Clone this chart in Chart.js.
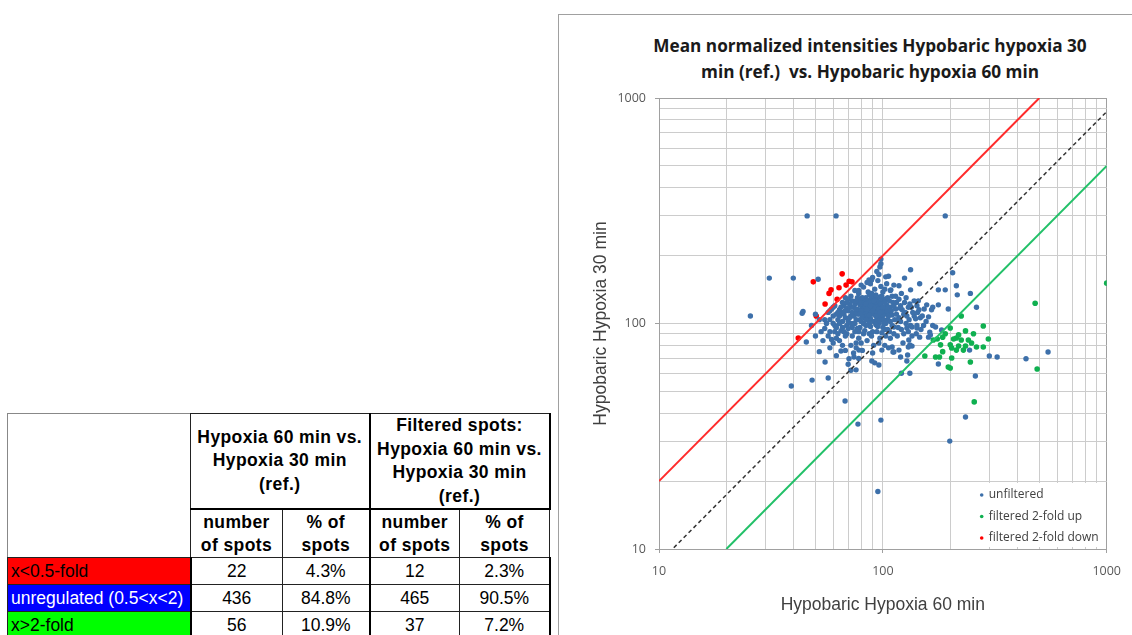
<!DOCTYPE html>
<html>
<head>
<meta charset="utf-8">
<script src="https://cdn.jsdelivr.net/npm/chart.js@4.4.1/dist/chart.umd.min.js"></script>
<style>
  body { margin: 0; background: #fff; width: 1132px; height: 635px; overflow: hidden; position: relative; }
  #frame { position: absolute; left: 558px; top: 14px; width: 600px; height: 640px; border-left: 1.5px solid #a0a0a0; border-top: 1.5px solid #a0a0a0; }
  #chartBox { position: absolute; left: 558px; top: 14px; width: 574px; height: 621px; }
  #titulo { position: absolute; left: 590px; top: 33px; width: 560px; text-align: center; font-family: "Open Sans", sans-serif; font-weight: bold; font-size: 17.2px; line-height: 26px; color: #1a1a1a; }
  #resumo { position: absolute; left: 7px; top: 413px; width: 542px; border-collapse: collapse; table-layout: fixed; font-family: "Liberation Sans", Arial, sans-serif; font-size: 17.5px; color: #000; }
  #resumo td, #resumo th { border: 1.5px solid #222; padding: 0; text-align: center; }
  #resumo th { font-weight: bold; line-height: 23.5px; letter-spacing: 0.4px; }
  #resumo .blank { border-top-color: #888; border-left-color: #888; }
  #resumo .grp { border-left: 2.5px solid #000; border-right: 2.5px solid #000; }
  #resumo tr.h1 th { height: 92px; border-bottom: 2.5px solid #000; }
  #resumo tr.h2 th { height: 47px; line-height: 23px; }
  #resumo td.rotulo { text-align: left; padding-left: 3px; white-space: nowrap; border-right: 2.5px solid #000; }
  #resumo tr.dado td { height: 26px; }
</style>
</head>
<body>
<div id="frame"></div>
<div id="titulo">Mean normalized intensities Hypobaric hypoxia 30<br>min (ref.)&nbsp; vs. Hypobaric hypoxia 60 min</div>
<div id="chartBox"><canvas id="graficoDispersao"></canvas></div>

<table id="resumo">
  <colgroup>
    <col style="width:183px"><col style="width:92px"><col style="width:87px"><col style="width:90px"><col style="width:90px">
  </colgroup>
  <tr class="h1">
    <td rowspan="2" class="blank"></td>
    <th colspan="2">Hypoxia 60 min vs.<br>Hypoxia 30 min<br>(ref.)</th>
    <th colspan="2" class="grp">Filtered spots:<br>Hypoxia 60 min vs.<br>Hypoxia 30 min<br>(ref.)</th>
  </tr>
  <tr class="h2">
    <th>number<br>of spots</th><th>% of<br>spots</th><th style="border-left:2.5px solid #000">number<br>of spots</th><th>% of<br>spots</th>
  </tr>
  <tbody id="linhasResumo"></tbody>
</table>

<script>
// table values
const rowLabels = ["x<0.5-fold", "unregulated (0.5<x<2)", "x>2-fold"];
const rowColors = ["#ff0000", "#0000ff", "#00ff00"];
const rowTextColors = ["#000", "#fff", "#000"];
const spotCounts = [22, 436, 56];
const spotPercents = ["4.3%", "84.8%", "10.9%"];
const filteredCounts = [12, 465, 37];
const filteredPercents = ["2.3%", "90.5%", "7.2%"];

// chart values [60 min, 30 min]
const downPoints = [
  [65.8, 166], [48.9, 153], [68.5, 148], [72.8, 153], [63.7, 144], [58.7, 141],
  [57.5, 136], [62.5, 128], [55.2, 122], [50.4, 108], [41.9, 86.3], [70.7, 154]
];

const upPoints = [
  [1000, 151], [479, 123], [489, 62.8], [256, 44.9], [224, 108], [281, 97.5],
  [200, 95.5], [234, 92.7], [213, 86.3], [207, 85.3], [224, 84.5], [241, 84.5],
  [249, 81.9], [185, 87], [175, 85.3], [168, 84.5], [181, 80.4], [200, 80.4],
  [218, 79.4], [234, 79.4], [262, 78.7], [281, 78.7], [203, 77.9], [213, 76.2],
  [229, 76.2], [154, 71.8], [172, 71], [179, 71], [203, 70.3], [246, 67.5],
  [196, 64.1], [200, 63.5], [190, 90], [218, 89], [254, 90], [296, 85.3], [185, 75]
];

const unfilteredPoints = [
  // outliers
  [25.6, 108], [31.1, 159], [39.8, 159], [45.9, 300], [61.8, 300], [190, 300],
  [51.4, 157], [43.6, 111], [44, 113], [45.5, 82.8], [39, 52.8], [48.3, 56.1],
  [57, 57.3], [55.2, 67.5], [67.8, 45.3], [77.4, 35.8], [75.9, 62.3], [86.7, 156],
  [98, 193], [98, 184], [133, 173], [125, 159], [146, 150], [118, 147], [133, 141],
  [177, 141], [190, 141], [213, 147], [205, 168], [262, 118], [157, 121], [167, 118],
  [177, 121], [142, 120], [143, 112], [160, 107], [167, 98], [162, 91.6], [146, 87],
  [160, 87], [142, 95.5], [128, 95.5], [135, 96.5], [112, 96.5], [111, 74.8],
  [129, 72.5], [130, 78.7], [120, 71], [128, 68.2], [132, 60.2], [121, 60.2],
  [98, 37.3], [92, 66.9], [96, 65.5], [89.3, 68.2], [99, 76.2], [110, 78.7],
  [78.2, 76.2], [74.3, 71], [70.6, 69.8], [65, 75.5], [103, 161], [89, 156],
  [108.6, 141], [147, 106], [152, 98], [246, 136], [215, 134], [196, 116], [165, 115],
  [172, 96.5], [183, 93.6], [163, 88.9], [130.6, 84.5], [135, 79.4], [118, 76.2],
  [132, 80.4], [112, 74.8], [177, 66.1], [244, 76.2], [299, 71.8], [324, 71],
  [436, 69.8], [547, 74.8], [259, 58.5], [234, 38.5], [199, 30.1], [95, 18],
  // core of the cloud
  [72, 118], [75, 122], [78, 115], [80, 125], [82, 110], [84, 130], [86, 118], [88, 105],
  [90, 122], [92, 112], [94, 128], [96, 108], [98, 118], [100, 125], [74, 108], [77, 130],
  [79, 104], [81, 119], [83, 126], [85, 112], [87, 134], [89, 116], [91, 102], [93, 120],
  [95, 114], [97, 131], [99, 106], [101, 115], [73, 126], [76, 112], [78, 136], [80, 102],
  [82, 121], [84, 114], [86, 127], [88, 110], [90, 131], [92, 117], [94, 104], [96, 124],
  [98, 112], [70, 114], [71, 122], [74, 118], [76, 104], [79, 128], [81, 111], [83, 106],
  [85, 123], [87, 115], [89, 129], [91, 110], [93, 125], [95, 119], [97, 103], [99, 127],
  [102, 110], [104, 121], [106, 113], [103, 128], [105, 104], [108, 118], [110, 109], [107, 126],
  [76, 116], [79, 121], [82, 116], [85, 108], [88, 124], [91, 118], [94, 111], [97, 121],
  [100, 109], [103, 117], [77, 110], [80, 114], [83, 119], [86, 103], [89, 112], [92, 127],
  [95, 108], [98, 122], [101, 104], [104, 114], [78, 124], [81, 107], [84, 122], [87, 109],
  [90, 114], [93, 108], [96, 116], [99, 113], [102, 124], [105, 118],
  [58, 114], [61, 98], [64, 108], [67, 120], [70, 102], [73, 96], [76, 126], [79, 110],
  [82, 100], [85, 116], [88, 120], [91, 126], [94, 98], [97, 112], [100, 118], [103, 100],
  [106, 108], [109, 114], [112, 90], [115, 124], [118, 106], [121, 94], [124, 110], [127, 100],
  [130, 92], [134, 118], [138, 108], [141, 90], [144, 126], [148, 94], [153, 116], [156, 102],
  [66, 112], [69, 90], [72, 108], [75, 100], [78, 92], [81, 130], [84, 104], [87, 100],
  [90, 92], [93, 134], [96, 100], [99, 132], [102, 94], [105, 130], [108, 102], [111, 124],
  [114, 116], [117, 104], [120, 120], [55, 104], [57, 88], [59, 116], [61, 92], [60, 100],
  [75, 140], [72, 132], [68, 130], [110, 132],
  // left side of the cloud
  [56, 100], [58, 92], [60, 108], [62, 96], [64, 115], [66, 102], [68, 88], [57, 112],
  [59, 85], [61, 120], [63, 104], [65, 93], [67, 110], [69, 98], [55, 95], [60, 118],
  [62, 86], [64, 100], [66, 124], [68, 106], [58, 104], [63, 112], [67, 92], [69, 117],
  [62, 110], [65, 118], [68, 114], [71, 106], [73, 112], [70, 128], [66, 96], [72, 100],
  [63, 90], [69, 124], [48, 98], [50, 88], [52, 104], [53, 92], [54, 84], [50, 110], [52, 75],
  // upper side
  [78, 140], [82, 145], [86, 138], [88, 150], [92, 142], [95, 155], [98, 146], [100, 138],
  [104, 150], [106, 162], [90, 160], [94, 170], [97, 178], [85, 152], [80, 148], [102, 142],
  [108, 140], [112, 148], [96, 165], [89, 136],
  // lower side
  [70, 95], [73, 88], [76, 82], [79, 96], [82, 90], [85, 84], [88, 97], [91, 80],
  [94, 92], [97, 86], [100, 96], [103, 88], [106, 78], [72, 80], [75, 92], [78, 86],
  [81, 76], [84, 98], [87, 90], [90, 74], [93, 99], [96, 82], [99, 91], [102, 80],
  [105, 94], [108, 86], [110, 98], [74, 100], [77, 95], [83, 93], [89, 88], [95, 97],
  [101, 100], [107, 92], [58, 78], [62, 72], [66, 80], [70, 66], [74, 74], [78, 70],
  [64, 84], [68, 76], [72, 62], [76, 78], [60, 82], [80, 82],
  // right side
  [112, 120], [115, 110], [118, 128], [120, 102], [122, 115], [125, 124], [128, 108], [130, 118],
  [133, 98], [136, 112], [140, 105], [114, 132], [117, 96], [121, 136], [124, 90], [127, 130],
  [132, 122], [135, 88], [138, 126], [142, 98], [145, 115], [150, 108], [113, 104], [119, 117],
  [126, 112], [131, 104], [116, 88], [123, 82]
];

const diagonalLine = [[10, 8.7], [1000, 870]];
const upperFoldLine = [[10, 20], [500, 1000]];
const lowerFoldLine = [[20, 10], [1000, 500]];

const gridValues = [10, 20, 30, 40, 50, 60, 70, 80, 90, 100, 200, 300, 400, 500, 600, 700, 800, 900, 1000];
const tickLabels = [10, 100, 1000];

// table rows
document.getElementById("linhasResumo").innerHTML = rowLabels.map((rotulo, i) => `
  <tr class="dado">
    <td class="rotulo" style="background:${rowColors[i]};color:${rowTextColors[i]}">${rotulo.replace(/</g, "&lt;").replace(/>/g, "&gt;")}</td>
    <td>${spotCounts[i]}</td>
    <td>${spotPercents[i]}</td>
    <td style="border-left:2.5px solid #000">${filteredCounts[i]}</td>
    <td style="border-right:2.5px solid #000">${filteredPercents[i]}</td>
  </tr>
`).join("");

function paraPontos(lista) {
  return lista.map(p => ({ x: p[0], y: p[1] }));
}

const legendaInterna = {
  id: "legendaInterna",
  beforeDatasetsDraw(chart) {
    const { ctx, chartArea: a } = chart;
    ctx.save();
    ctx.fillStyle = "#fff";
    ctx.fillRect(a.right - 134, a.bottom - 66, 132, 64);
    ctx.restore();
  },
  afterDraw(chart) {
    const { ctx, chartArea: a } = chart;
    const itens = chart.data.datasets.filter(d => d.naLegenda);
    ctx.save();
    ctx.font = "12px 'Open Sans', sans-serif";
    ctx.textBaseline = "middle";
    itens.forEach((d, i) => {
      const y = a.bottom - 54 + i * 21.5;
      ctx.fillStyle = d.backgroundColor;
      ctx.beginPath();
      ctx.arc(a.right - 125, y, 1.8, 0, Math.PI * 2);
      ctx.fill();
      ctx.fillStyle = "#404040";
      ctx.fillText(d.label, a.right - 118, y);
    });
    ctx.restore();
  }
};

function eixo(titulo, vertical) {
  return {
    type: "logarithmic",
    min: 10,
    max: 1000,
    afterBuildTicks: s => { s.ticks = gridValues.map(v => ({ value: v })); },
    afterFit: s => { if (vertical) s.width = 101; else s.height = 86; },
    ticks: {
      autoSkip: false,
      maxRotation: 0,
      padding: vertical ? 9 : 11,
      color: "#595959",
      font: { family: "'Open Sans', sans-serif", size: 12.5 },
      callback: v => tickLabels.includes(v) ? String(v) : ""
    },
    grid: {
      color: ctx => ctx.tick && ctx.tick.value === 1000 ? "#a0a0a0" : "#cccccc",
      lineWidth: 1,
      tickLength: 4,
      tickColor: ctx => ctx.tick && tickLabels.includes(ctx.tick.value) ? "#a0a0a0" : "rgba(0,0,0,0)"
    },
    border: { color: "#a0a0a0" },
    title: {
      display: true,
      text: titulo,
      color: "#404040",
      font: { family: "'Liberation Sans', Arial, sans-serif", size: 17.5 },
      padding: vertical ? { top: 33, bottom: 0 } : { top: 0, bottom: 19 }
    }
  };
}

new Chart(document.getElementById("graficoDispersao"), {
  type: "scatter",
  data: {
    datasets: [
      { type: "line", data: paraPontos(diagonalLine), borderColor: "#333", borderWidth: 1.5, borderDash: [4, 3], pointRadius: 0 },
      { type: "line", data: paraPontos(upperFoldLine), borderColor: "#ff2b2b", borderWidth: 2, pointRadius: 0 },
      { type: "line", data: paraPontos(lowerFoldLine), borderColor: "#22c068", borderWidth: 2, pointRadius: 0 },
      { label: "unfiltered", naLegenda: true, data: paraPontos(unfilteredPoints), backgroundColor: "#3d70aa", pointRadius: 2.7, borderWidth: 0 },
      { label: "filtered 2-fold up", naLegenda: true, data: paraPontos(upPoints), backgroundColor: "#0fb050", pointRadius: 2.8, borderWidth: 0 },
      { label: "filtered 2-fold down", naLegenda: true, data: paraPontos(downPoints), backgroundColor: "#ff0000", pointRadius: 2.8, borderWidth: 0 }
    ]
  },
  options: {
    responsive: true,
    maintainAspectRatio: false,
    animation: false,
    layout: { padding: { top: 84, right: 23, left: 0, bottom: 0 } },
    plugins: { legend: { display: false }, tooltip: { enabled: false } },
    scales: {
      x: eixo("Hypobaric Hypoxia 60 min", false),
      y: eixo("Hypobaric Hypoxia 30 min", true)
    }
  },
  plugins: [legendaInterna]
});
</script>
</body>
</html>
